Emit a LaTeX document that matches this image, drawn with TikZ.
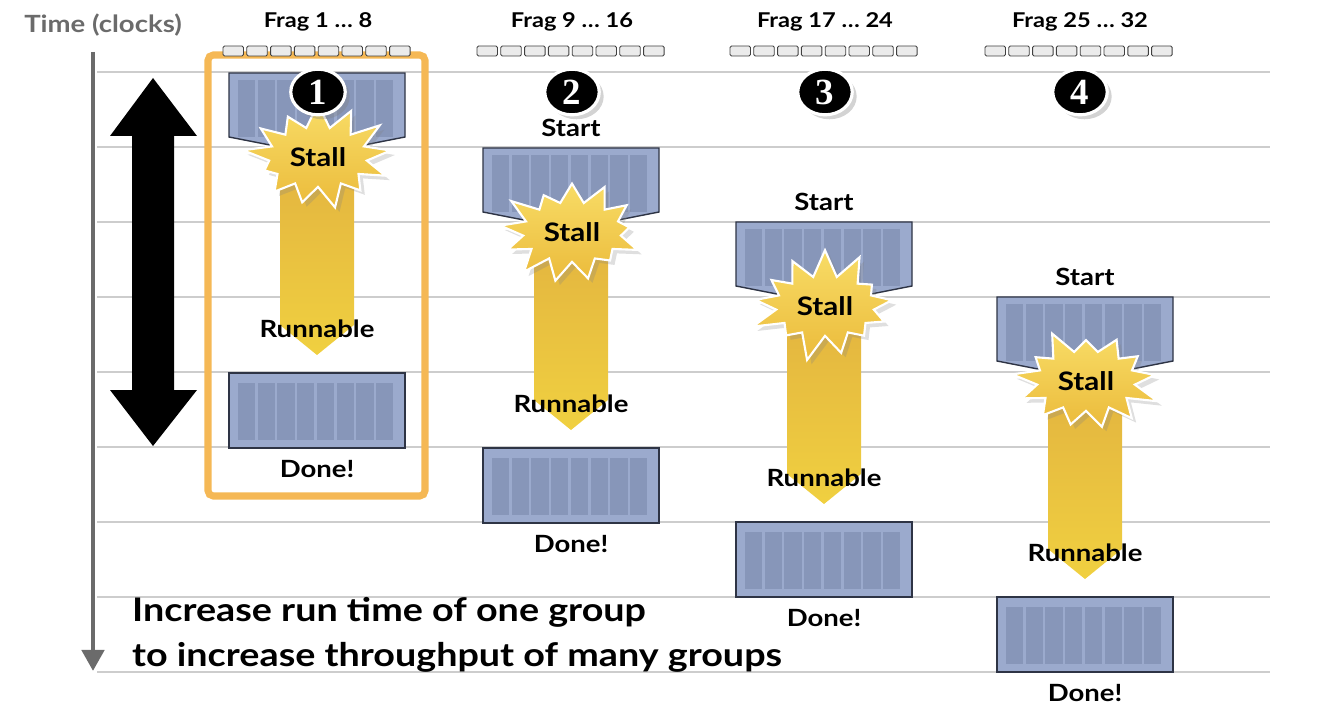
\documentclass[tikz,border=0pt]{standalone}
\usepackage{fontspec}
\setmainfont{Lato}[FakeStretch=1.16]
\newfontfamily\numfont{Liberation Serif}
\usetikzlibrary{positioning, arrows.meta, shapes.geometric, shapes.symbols, shadows}
\definecolor{gridgray}{HTML}{CDCDCD}
\definecolor{axisgray}{HTML}{6B6B6B}
\definecolor{warpblue}{HTML}{9BAACD}
\definecolor{warpbar}{HTML}{8796B9}
\definecolor{warpedge}{HTML}{2E3445}
\definecolor{stalltop}{HTML}{F8DC66}
\definecolor{stallbot}{HTML}{EBBB3B}
\definecolor{runtop}{HTML}{E2B240}
\definecolor{runbot}{HTML}{F0D040}
\definecolor{groupgold}{HTML}{F5B855}

\begin{document}
\begin{tikzpicture}[
    x=0.02cm, y=-0.02cm,
    every node/.style={font=\bfseries\fontsize{13.5}{16}\selectfont},
    gridline/.style={gridgray, line width=1.1pt},
    warp/.style={fill=warpblue, draw=warpedge, line width=0.8pt},
    lane/.style={fill=warpbar},
    fragbox/.style={fill=black!8, draw=black!75, line width=0.5pt, rounded corners=0.8pt},
    burst/.style={starburst, starburst points=13, starburst point height=16pt,
                  random starburst=#1, minimum width=88pt, minimum height=66pt,
                  inner sep=0pt, top color=stalltop, bottom color=stallbot,
                  draw=white, line width=1.2pt, drop shadow={opacity=0.25},
                  font=\bfseries\fontsize{14.5}{16}\selectfont},
    badge/.style={ellipse, fill=black, draw=white, line width=1.8pt, inner sep=0pt,
                  minimum width=31pt, minimum height=26pt, text=white,
                  drop shadow={opacity=0.35}, font=\numfont\bfseries\fontsize{21}{21}\selectfont},
  ]
  \useasboundingbox (0,0) rectangle (1319,716);

  % clock rows
  \foreach \y in {72,147,222,297,372,447,522,597,672}
    \draw[gridline] (97,\y) -- (1270,\y);

  % time axis
  \node[text=axisgray] (clocks) at (103,25) {Time (clocks)};
  \coordinate (t0) at (93,52);
  \coordinate (t1) at (93,671);
  \draw[axisgray, line width=2.8pt, -{Triangle[length=12pt, width=12.5pt]}] (t0) -- (t1);

  % latency
  \fill[black] (153,78) -- (197,136) -- (174,136) -- (174,390) -- (197,390)
    -- (153,446) -- (110,390) -- (132,390) -- (132,136) -- (110,136) -- cycle;

  % first group
  \draw[groupgold, line width=4pt, rounded corners=3pt] (208,55) rectangle (425,496);

  \foreach \cx/\hx/\ty/\n/\lo/\hi/\seed in {317/318/73/1/1/8/37, 571/572/148/2/9/16/41,
                                            824/825/222/3/17/24/53, 1085/1080/297/4/25/32/29} {
    \begin{scope}[shift={(\cx,\ty)}]
      \shade[top color=runtop, bottom color=runbot]
        (-37,74) -- (-37,252) -- (0,282) -- (37,252) -- (37,74) -- cycle;
      \draw[warp] (-88,0) -- (88,0) -- (88,64) -- (37,74) -- (-37,74) -- (-88,64) -- cycle;
      \foreach \k in {0,...,7}
        \fill[lane] ({-79+\k*19.7},7) rectangle ({-79+\k*19.7+17.3},64);
      \node[burst=\seed] (stall-\n) at (1,84) {Stall};
      \node (run-\n) at (0,256) {Runnable};
      \draw[warp] (-88,300) rectangle (88,375);
      \foreach \k in {0,...,7}
        \fill[lane] ({-79+\k*19.7},310) rectangle ({-79+\k*19.7+17.3},367);
      \node (done-\n) at (0,396) {Done!};
      \ifnum\n>1
        \node (start-\n) at (0,-20) {Start};
      \fi
    \end{scope}
    \node[font=\bfseries\fontsize{11.6}{14}\selectfont] (frag-\n) at (\hx,22) {Frag \lo\ … \hi};
    \foreach \k in {0,...,7}
      \draw[fragbox] ({\hx-95+\k*23.8},46) rectangle ({\hx-95+\k*23.8+20.5},56);
    \node[badge] (num-\n) at (\hx,92) {\n};
  }

  \node[anchor=west, align=left, font=\bfseries\fontsize{18.5}{25.6}\selectfont]
    (moral) at (126,635) {Increase run time of one group\\to increase throughput of many groups};
\end{tikzpicture}
\end{document}
